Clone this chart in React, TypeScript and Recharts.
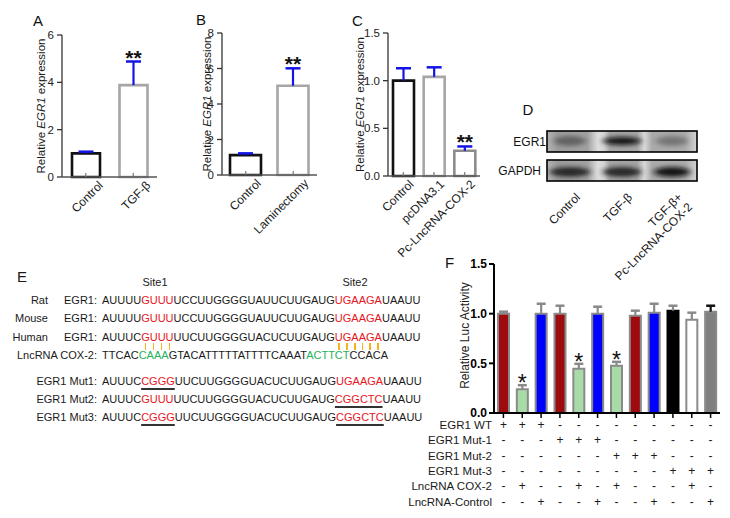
import React from 'react'
import { BarChart, Bar, XAxis, YAxis, Cell, LabelList } from 'recharts'

const FONT = '"Liberation Sans", Arial, Helvetica, sans-serif'

// ---- panel A / B / C data ----
const aCategories = ['Control', 'TGF-β']
const aValues = [1.0, 3.88]
const aErrors = [0.07, 1.0]
const aStars = ['', '**']

const bCategories = ['Control', 'Laminectomy']
const bValues = [1.12, 5.03]
const bErrors = [0.1, 0.98]
const bStars = ['', '**']

const cCategories = ['Control', 'pcDNA3.1', 'Pc-LncRNA-COX-2']
const cValues = [1.0, 1.04, 0.265]
const cErrors = [0.13, 0.1, 0.045]
const cStars = ['', '', '**']

// ---- panel D ----
const dRows = ['EGR1', 'GAPDH']
const dLanes = ['Control', 'TGF-β', 'TGF-β+|Pc-LncRNA-COX-2']

// ---- panel E ----
// n = plain, r = red, ru = red underlined, g = green
type Seg = [string, string]
const eRows: { species: string; name: string; segs: Seg[] }[] = [
  { species: 'Rat', name: 'EGR1:', segs: [['AUUUU', 'n'], ['GUUU', 'r'], ['UCCUUGGGGUAUUCUUGAUG', 'n'], ['UGAAGA', 'r'], ['UAAUU', 'n']] },
  { species: 'Mouse', name: 'EGR1:', segs: [['AUUUU', 'n'], ['GUUU', 'r'], ['UCCUUGGGGUAUUCUUGAUG', 'n'], ['UGAAGA', 'r'], ['UAAUU', 'n']] },
  { species: 'Human', name: 'EGR1:', segs: [['AUUUC', 'n'], ['GUUU', 'r'], ['UUCUUGGGGUACUCUUGAUG', 'n'], ['UGAAGA', 'r'], ['UAAUU', 'n']] },
  { species: '', name: 'LncRNA COX-2:', segs: [['TTCAC', 'n'], ['CAAA', 'g'], ['GTACATTTTTATTTTCAAAT', 'n'], ['ACTTCT', 'g'], ['CCACA', 'n']] },
  { species: '', name: 'EGR1 Mut1:', segs: [['AUUUC', 'n'], ['CGGG', 'ru'], ['UUCUUGGGGUACUCUUGAUG', 'n'], ['UGAAGA', 'r'], ['UAAUU', 'n']] },
  { species: '', name: 'EGR1 Mut2:', segs: [['AUUUC', 'n'], ['GUUU', 'r'], ['UUCUUGGGGUACUCUUGAUG', 'n'], ['CGGCTC', 'ru'], ['UAAUU', 'n']] },
  { species: '', name: 'EGR1 Mut3:', segs: [['AUUUC', 'n'], ['CGGG', 'ru'], ['UUCUUGGGGUACUCUUGAUG', 'n'], ['CGGCTC', 'ru'], ['UAAUU', 'n']] },
]
const eRowY = [300, 318, 337, 355, 381, 399, 417]
const eSites = ['Site1', 'Site2']

// ---- panel F ----
const fValues = [1.0, 0.24, 1.0, 1.0, 0.445, 1.0, 0.475, 0.98, 1.01, 1.03, 0.94, 1.02]
const fErrors = [0.02, 0.04, 0.1, 0.08, 0.05, 0.07, 0.04, 0.05, 0.09, 0.05, 0.07, 0.06]
const fFills = ['#9e0b0f', '#a8dba8', '#0000ff', '#9e0b0f', '#a8dba8', '#0000ff', '#a8dba8', '#9e0b0f', '#0000ff', '#000000', '#ffffff', '#808080']
const fStars = ['', '*', '', '', '*', '', '*', '', '', '', '', '']
const fRowLabels = ['EGR1 WT', 'EGR1 Mut-1', 'EGR1 Mut-2', 'EGR1 Mut-3', 'LncRNA COX-2', 'LncRNA-Control']
const fTable = [
  '+++---------',
  '---+++------',
  '------+++---',
  '---------+++',
  '-+--+-+---+-',
  '--+--+--+--+',
]

const colour: Record<string, string> = { n: '#1a1a1a', r: '#e8141c', ru: '#e8141c', g: '#1fb25a' }

let ctx: CanvasRenderingContext2D | null = null
function textWidth(s: string, font: string) {
  if (!ctx) ctx = document.createElement('canvas').getContext('2d')
  if (!ctx) return s.length * 7.9
  ctx.font = font
  return ctx.measureText(s).width
}

function ErrShape(props: any) {
  const { x, y, width, height, color, cap } = props
  if (height == null) return null
  const cx = x + width / 2
  return (
    <g>
      <line x1={cx} x2={cx} y1={y + height} y2={y} stroke={color} strokeWidth={2.2} />
      <line x1={cx - cap / 2} x2={cx + cap / 2} y1={y} y2={y} stroke={color} strokeWidth={2.5} />
    </g>
  )
}

function YLabel({ viewBox, cx, dy }: any) {
  const cy = viewBox.y + viewBox.height / 2 + (dy || 0)
  return (
    <text x={cx} y={cy} transform={`rotate(-90, ${cx}, ${cy})`} textAnchor="middle"
      dominantBaseline="central" fontSize={11.5} fill="#1a1a1a" fontFamily={FONT}>
      Relative <tspan fontStyle="italic">EGR1</tspan> expression
    </text>
  )
}

type SmallProps = {
  left: number; top: number; width: number; height: number
  plotLeft: number; plotRight: number; plotTop: number; plotBottom: number
  categories: string[]; values: number[]; errors: number[]; stars: string[]
  max: number; ticks: number[]; decimals: number; barSize: number
  labelX: number; tickDx: number
}

function SmallPanel(p: SmallProps) {
  const data = p.categories.map((c, i) => ({ name: c, value: p.values[i], err: p.errors[i], star: p.stars[i] }))
  const strokes = ['#111111', '#a6a6a6', '#8c8c8c']
  return (
    <div style={{ position: 'absolute', left: p.left, top: p.top }}>
      <BarChart width={p.width} height={p.height} data={data}
        margin={{ top: p.plotTop - p.top, right: p.left + p.width - p.plotRight, bottom: 0, left: 0 }}>
        <YAxis domain={[0, p.max]} ticks={p.ticks} width={p.plotLeft - p.left}
          tickFormatter={(v: number) => v.toFixed(p.decimals)}
          tick={{ fontSize: 11.5, fill: '#222', fontFamily: FONT }}
          axisLine={{ stroke: '#333', strokeWidth: 1.3 }} tickLine={{ stroke: '#333', strokeWidth: 1.3 }}
          tickSize={5} tickMargin={3}
          label={(lp: any) => <YLabel {...lp} cx={p.labelX - p.left} />} />
        <XAxis dataKey="name" height={p.top + p.height - p.plotBottom} interval={0}
          axisLine={{ stroke: '#555', strokeWidth: 1.3 }} tickLine={false} tickSize={0} tickMargin={0}
          tick={(t: any) => {
            const ax = t.x + p.tickDx
            const ay = t.y + 9
            return (
              <g>
                <line x1={t.x} x2={t.x} y1={t.y} y2={t.y - 4} stroke="#777" strokeWidth={1.2} />
                <text x={ax} y={ay} transform={`rotate(-45, ${ax}, ${ay})`} textAnchor="end"
                  fontSize={12} fill="#1a1a1a" fontFamily={FONT}>{t.payload.value}</text>
              </g>
            )
          }} />
        <Bar dataKey="value" stackId="s" barSize={p.barSize} fill="#fff" strokeWidth={2.6} isAnimationActive={false}>
          {data.map((d, i) => <Cell key={d.name} stroke={strokes[i]} fill="#fff" />)}
        </Bar>
        <Bar dataKey="err" stackId="s" barSize={p.barSize} isAnimationActive={false}
          shape={(sp: any) => <ErrShape {...sp} color="#1414e6" cap={15} />}>
          <LabelList dataKey="star" content={(lp: any) => (
            lp.value ? <text x={lp.x + lp.width / 2} y={lp.y + 3} textAnchor="middle" fontSize={21}
              fontWeight="bold" fill="#111" fontFamily={FONT}>{lp.value}</text> : null
          )} />
        </Bar>
      </BarChart>
    </div>
  )
}

function PanelD() {
  const x0 = 547, w = 150, h = 21
  const rowTop = [131, 160]
  const laneX = [23, 75, 125]
  const bands = [
    [{ c: '#4a4a4a', rx: 16, ry: 5, o: 0.7 }, { c: '#0a0a0a', rx: 19, ry: 4, o: 0.95 }, { c: '#555555', rx: 16, ry: 5, o: 0.6 }],
    [{ c: '#1a1a1a', rx: 20, ry: 5, o: 0.9 }, { c: '#1a1a1a', rx: 19, ry: 5, o: 0.9 }, { c: '#101010', rx: 18, ry: 5, o: 0.95 }],
  ]
  return (
    <svg width={730} height={518} style={{ position: 'absolute', left: 0, top: 0 }}>
      <defs>
        <linearGradient id="blotbg" x1="0" x2="1" y1="0" y2="0">
          <stop offset="0" stopColor="#b4b4b4" />
          <stop offset="0.07" stopColor="#9c9c9c" />
          <stop offset="0.27" stopColor="#a2a2a2" />
          <stop offset="0.34" stopColor="#dedede" />
          <stop offset="0.38" stopColor="#d2d2d2" />
          <stop offset="0.42" stopColor="#a4a4a4" />
          <stop offset="0.6" stopColor="#a4a4a4" />
          <stop offset="0.65" stopColor="#d8d8d8" />
          <stop offset="0.7" stopColor="#aaaaaa" />
          <stop offset="0.92" stopColor="#aaaaaa" />
          <stop offset="1" stopColor="#d4d4d4" />
        </linearGradient>
        <filter id="blur" x="-50%" y="-100%" width="200%" height="300%">
          <feGaussianBlur stdDeviation="3.2 2" />
        </filter>
        {rowTop.map((t, r) => (
          <clipPath id={`clip${r}`} key={r}><rect x={x0} y={t} width={w} height={h} /></clipPath>
        ))}
      </defs>
      <text x={528} y={115} textAnchor="middle" fontSize={15} fontFamily={FONT} fill="#111">D</text>
      {rowTop.map((t, r) => (
        <g key={r}>
          <text x={r === 0 ? 546 : 541} y={t + h / 2} textAnchor="end" dominantBaseline="central"
            fontSize={12} fontFamily={FONT} fill="#111">{dRows[r]}</text>
          <g clipPath={`url(#clip${r})`}>
            <rect x={x0} y={t} width={w} height={h} fill="url(#blotbg)" />
            {laneX.map((lx, i) => (
              <ellipse key={i} cx={x0 + lx} cy={t + (r === 0 ? 10 : 12)} rx={bands[r][i].rx} ry={bands[r][i].ry}
                fill={bands[r][i].c} opacity={bands[r][i].o} filter="url(#blur)" />
            ))}
          </g>
          <rect x={x0} y={t} width={w} height={h} fill="none" stroke="#000" strokeWidth={1.6} />
        </g>
      ))}
      {dLanes.map((lbl, i) => {
        const ax = x0 + laneX[i] + 11
        const ay = 198
        const lines = lbl.split('|')
        return (
          <text key={i} x={ax} y={ay} transform={`rotate(-45, ${ax}, ${ay})`} textAnchor="end"
            fontSize={12} fontFamily={FONT} fill="#1a1a1a">
            {lines.map((ln, k) => <tspan key={k} x={ax} dy={k === 0 ? 0 : 14}>{ln}</tspan>)}
          </text>
        )
      })}
    </svg>
  )
}

function PanelE() {
  const fs = 11
  const fontStr = `${fs}px "Liberation Sans"`
  const base: React.CSSProperties = { position: 'absolute', fontSize: fs, lineHeight: '14px', fontFamily: FONT, whiteSpace: 'nowrap', color: '#1a1a1a' }

  // orange pairing ticks under the red letters of the human row
  const human = eRows[2].segs
  const tickX: number[] = []
  let prefix = ''
  human.forEach(([txt, kind]) => {
    if (kind === 'r') {
      txt.split('').forEach((ch, k) => {
        const start = textWidth(prefix + txt.slice(0, k), fontStr)
        tickX.push(start + textWidth(ch, fontStr) / 2)
      })
    }
    prefix += txt
  })

  return (
    <div>
      <div style={{ ...base, left: 17, top: 268, fontSize: 15, lineHeight: '18px' }}>E</div>
      {eSites.map((s, i) => (
        <div key={s} style={{ ...base, left: i === 0 ? 140 : 340, top: 275, width: 30, textAlign: 'center' }}>{s}</div>
      ))}
      {eRows.map((r, i) => (
        <React.Fragment key={i}>
          {r.species && <div style={{ ...base, left: 0, width: 48, textAlign: 'right', top: eRowY[i] - 7 }}>{r.species}</div>}
          <div style={{ ...base, left: 0, width: 97, textAlign: 'right', top: eRowY[i] - 7 }}>{r.name}</div>
          <div style={{ ...base, left: 102, top: eRowY[i] - 7 }}>
            {r.segs.map(([txt, kind], k) => (
              <span key={k} style={{
                color: colour[kind],
                textDecoration: kind === 'ru' ? 'underline' : 'none',
                textDecorationColor: '#333',
                textDecorationThickness: '1.5px',
                textUnderlineOffset: '3px',
              }}>{txt}</span>
            ))}
          </div>
        </React.Fragment>
      ))}
      {tickX.map((x, i) => (
        <div key={i} style={{ position: 'absolute', left: 102 + x - 0.8, top: 343, width: 1.6, height: 7, background: '#f5b21a' }} />
      ))}
    </div>
  )
}

function PanelF() {
  const left = 400, top = 240, width = 330, height = 278
  const plotLeft = 494, plotRight = 720, plotTop = 264, plotBottom = 413
  const data = fValues.map((v, i) => ({ id: `b${i}`, value: v, err: fErrors[i], star: fStars[i] }))
  return (
    <div style={{ position: 'absolute', left, top }}>
      <BarChart width={width} height={height} data={data}
        margin={{ top: plotTop - top, right: left + width - plotRight, bottom: 0, left: 0 }}>
        <YAxis domain={[0, 1.5]} ticks={[0, 0.5, 1, 1.5]} width={plotLeft - left}
          tickFormatter={(v: number) => v.toFixed(1)}
          tick={{ fontSize: 12, fill: '#000', fontWeight: 'bold', fontFamily: FONT }}
          axisLine={{ stroke: '#000', strokeWidth: 2 }} tickLine={{ stroke: '#000', strokeWidth: 2 }}
          tickSize={5} tickMargin={2}
          label={(lp: any) => {
            const cx = 465 - left
            const cy = lp.viewBox.y + lp.viewBox.height / 2 - 3
            return <text x={cx} y={cy} transform={`rotate(-90, ${cx}, ${cy})`} textAnchor="middle"
              dominantBaseline="central" fontSize={12} fill="#1a1a1a" fontFamily={FONT}>Relative Luc Activity</text>
          }} />
        <XAxis dataKey="id" height={top + height - plotBottom} interval={0}
          axisLine={{ stroke: '#000', strokeWidth: 2 }} tickLine={false} tickSize={0} tickMargin={0}
          tick={(t: any) => {
            const col = t.index
            return (
              <g>
                <line x1={t.x} x2={t.x} y1={t.y} y2={t.y + 5} stroke="#000" strokeWidth={1.5} />
                {fTable.map((rowStr, r) => (
                  <text key={r} x={t.x} y={t.y + 12 + r * 15.3} textAnchor="middle" dominantBaseline="central"
                    fontSize={12} fill="#1a1a1a" fontFamily={FONT}>{rowStr[col]}</text>
                ))}
              </g>
            )
          }} />
        <Bar dataKey="value" stackId="s" barSize={11} strokeWidth={2} isAnimationActive={false}>
          {data.map((d, i) => <Cell key={d.id} fill={fFills[i]} stroke={i === 9 ? '#000' : '#8a8a8a'} />)}
        </Bar>
        <Bar dataKey="err" stackId="s" barSize={11} isAnimationActive={false}
          shape={(sp: any) => <ErrShape {...sp} color={sp.index === 11 ? '#111' : '#8a8a8a'} cap={9} />}>
          <LabelList dataKey="star" content={(lp: any) => (
            lp.value ? <text x={lp.x + lp.width / 2} y={lp.y + 6} textAnchor="middle" fontSize={23}
              fill="#111" fontFamily={FONT}>{lp.value}</text> : null
          )} />
        </Bar>
      </BarChart>
      <div style={{ position: 'absolute', left: 445 - left, top: 254 - top, fontSize: 15, fontFamily: FONT, color: '#111' }}>F</div>
      {fRowLabels.map((l, r) => (
        <div key={l} style={{
          position: 'absolute', left: 0, width: 492 - left, textAlign: 'right', top: plotBottom - top + 12 + r * 15.3 - 7,
          fontSize: 11.5, lineHeight: '14px', fontFamily: FONT, color: '#1a1a1a', whiteSpace: 'nowrap',
        }}>{l}</div>
      ))}
    </div>
  )
}

export default function App() {
  return (
    <div style={{ position: 'absolute', left: 0, top: 0, width: 730, height: 518, background: '#fff', fontFamily: FONT, overflow: 'hidden' }}>
      <div style={{ position: 'absolute', left: 33, top: 12, fontSize: 15, color: '#111' }}>A</div>
      <div style={{ position: 'absolute', left: 196, top: 11, fontSize: 15, color: '#111' }}>B</div>
      <div style={{ position: 'absolute', left: 352, top: 12, fontSize: 15, color: '#111' }}>C</div>
      <SmallPanel left={0} top={0} width={170} height={260} plotLeft={62} plotRight={157} plotTop={35} plotBottom={177}
        categories={aCategories} values={aValues} errors={aErrors} stars={aStars}
        max={6} ticks={[0, 2, 4, 6]} decimals={0} barSize={28} labelX={41} tickDx={18} />
      <SmallPanel left={170} top={0} width={160} height={260} plotLeft={222} plotRight={317} plotTop={33} plotBottom={175}
        categories={bCategories} values={bValues} errors={bErrors} stars={bStars}
        max={8} ticks={[0, 2, 4, 6, 8]} decimals={0} barSize={31} labelX={207} tickDx={16} />
      <SmallPanel left={330} top={0} width={160} height={270} plotLeft={388} plotRight={480} plotTop={33} plotBottom={176}
        categories={cCategories} values={cValues} errors={cErrors} stars={cStars}
        max={1.5} ticks={[0, 0.5, 1, 1.5]} decimals={1} barSize={21} labelX={360} tickDx={11} />
      <PanelD />
      <PanelE />
      <PanelF />
    </div>
  )
}
